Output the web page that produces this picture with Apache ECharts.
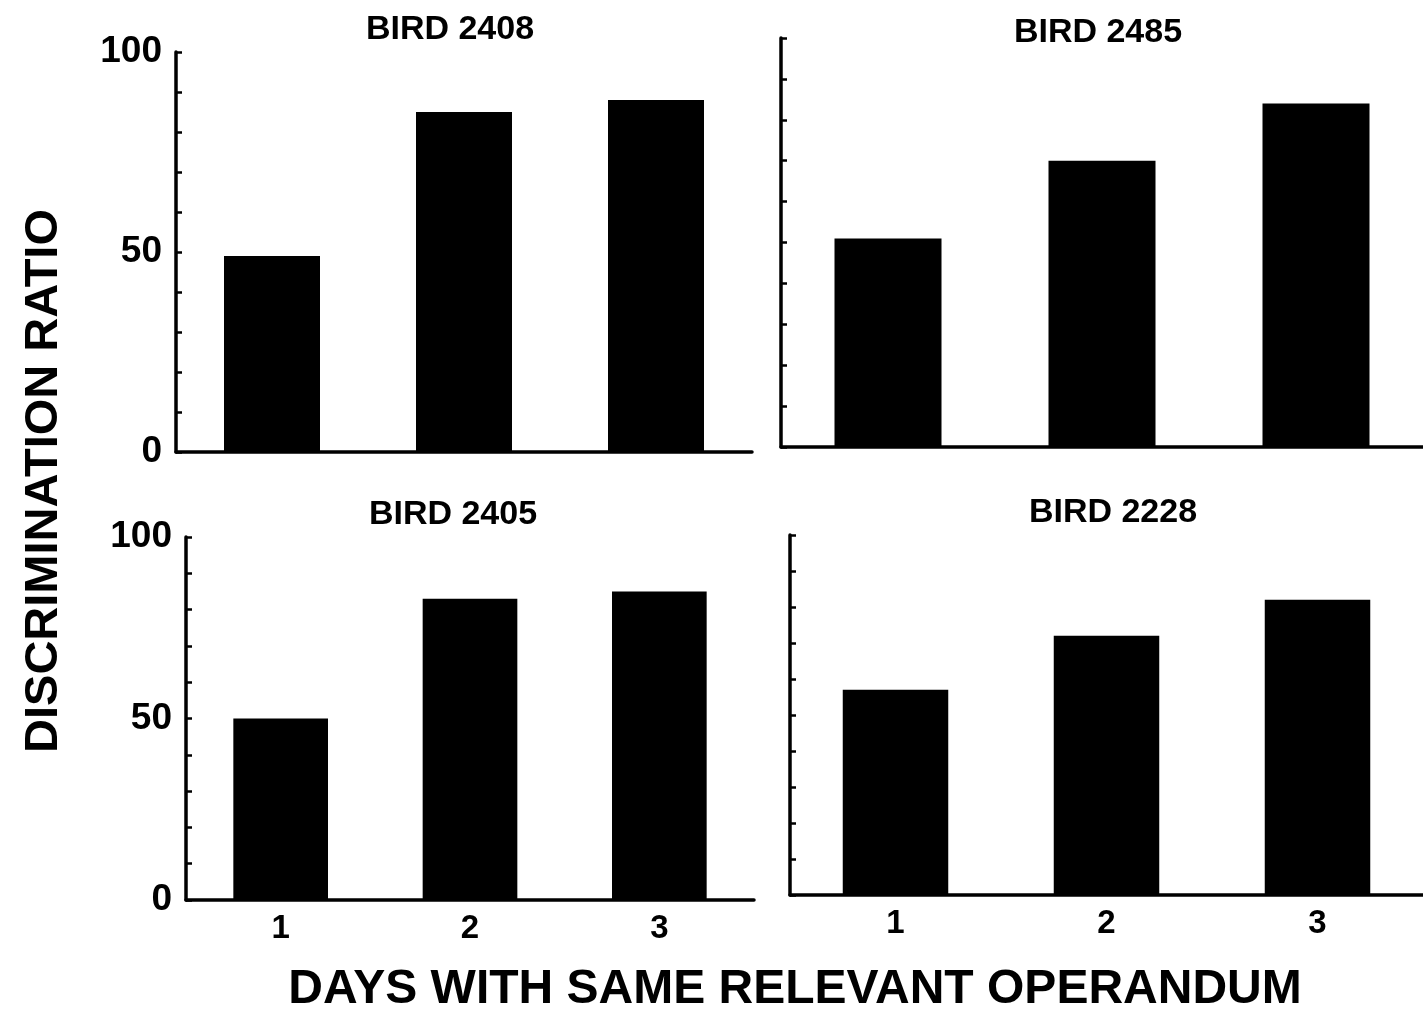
<!DOCTYPE html>
<html>
<head>
<meta charset="utf-8">
<title>Discrimination ratio by bird</title>
<script src="https://cdn.jsdelivr.net/npm/echarts@6/dist/echarts.min.js"></script>
<style>
  html, body { margin: 0; padding: 0; background: #fff; }
  #chart { width: 1423px; height: 1016px; }
</style>
</head>
<body>
<div id="chart"></div>
<script>
// Days with the same relevant operandum (category axis)
const days = ['1', '2', '3'];

// Panel titles
const birdNames = ['BIRD 2408', 'BIRD 2485', 'BIRD 2405', 'BIRD 2228'];

// Discrimination ratio per day, one array per bird
const bird2408 = [49, 85, 88];
const bird2485 = [51, 70, 84];
const bird2405 = [50, 83, 85];
const bird2228 = [57, 72, 82];

// Labelled y ticks (ticks every 10, labels only on these)
const yTickLabels = ['0', '50', '100'];

const yTitle = 'DISCRIMINATION RATIO';
const xTitle = 'DAYS WITH SAME RELEVANT OPERANDUM';

const seriesData = [bird2408, bird2485, bird2405, bird2228];

const FONT = '"Liberation Sans", Arial, Helvetica, sans-serif';

// Panel layout: top-left, top-right, bottom-left, bottom-right
const grids = [
  { left: 176, top: 52,  width: 576, height: 400 },
  { left: 781, top: 38,  width: 642, height: 409 },
  { left: 186, top: 537, width: 568, height: 363 },
  { left: 790, top: 535, width: 633, height: 360 }
];
const showYLabels = [true, false, true, false];
const showXLabels = [false, false, true, true];
const titlePos = [
  { left: 445,  top: 8 },
  { left: 1093, top: 11 },
  { left: 448,  top: 493 },
  { left: 1108, top: 491 }
];

const axisLine = { lineStyle: { color: '#000', width: 3.5 } };

const option = {
  backgroundColor: '#fff',
  animation: false,
  title: birdNames.map((name, i) => ({
    text: name,
    left: titlePos[i].left,
    top: titlePos[i].top,
    textAlign: 'center',
    textStyle: { fontFamily: FONT, fontWeight: 'bold', fontSize: 34, color: '#000' }
  })),
  grid: grids.map(g => Object.assign({ containLabel: false }, g)),
  xAxis: grids.map((g, i) => ({
    type: 'category',
    gridIndex: i,
    data: days,
    boundaryGap: true,
    axisLine: axisLine,
    axisTick: { show: false },
    axisLabel: {
      show: showXLabels[i],
      margin: 12,
      fontFamily: FONT,
      fontWeight: 'bold',
      fontSize: 33,
      color: '#000'
    },
    splitLine: { show: false }
  })),
  yAxis: grids.map((g, i) => ({
    type: 'value',
    gridIndex: i,
    min: 0,
    max: 100,
    interval: 10,
    axisLine: Object.assign({ show: true }, axisLine),
    axisTick: { show: true, inside: true, length: 6, lineStyle: { color: '#000', width: 2.5 } },
    axisLabel: {
      show: showYLabels[i],
      margin: 14,
      fontFamily: FONT,
      fontWeight: 'bold',
      fontSize: 37,
      color: '#000',
      formatter: v => (yTickLabels.indexOf(String(v)) >= 0 ? String(v) : '')
    },
    splitLine: { show: false }
  })),
  series: seriesData.map((values, i) => ({
    type: 'bar',
    name: birdNames[i],
    xAxisIndex: i,
    yAxisIndex: i,
    data: values,
    barWidth: '50%',
    itemStyle: { color: '#000' }
  })),
  graphic: [
    {
      type: 'text',
      x: 44,
      y: 481,
      rotation: Math.PI / 2,
      style: {
        x: 0,
        y: 0,
        text: yTitle,
        textAlign: 'center',
        textVerticalAlign: 'middle',
        font: 'bold 47px ' + FONT,
        fill: '#000'
      }
    },
    {
      type: 'text',
      x: 795,
      y: 990,
      style: {
        x: 0,
        y: 0,
        text: xTitle,
        textAlign: 'center',
        textVerticalAlign: 'middle',
        font: 'bold 48px ' + FONT,
        fill: '#000'
      }
    }
  ]
};

const chart = echarts.init(document.getElementById('chart'), null, { renderer: 'canvas' });
chart.setOption(option);
</script>
</body>
</html>
